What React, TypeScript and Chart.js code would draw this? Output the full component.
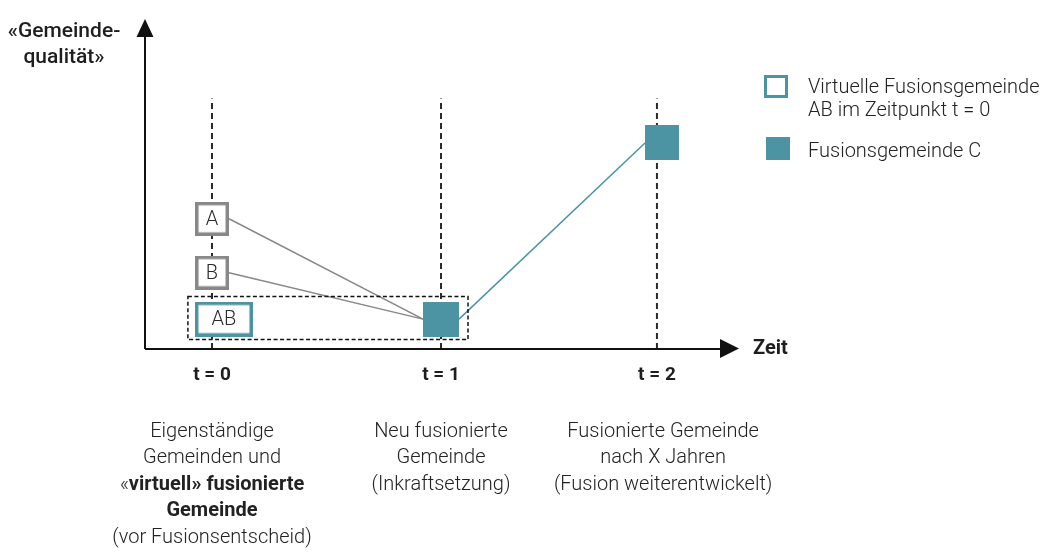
import React, { useEffect, useRef } from "react";
import { Chart, registerables } from "chart.js";

Chart.register(...registerables);

// ---------- data ----------
const timeLabels = ["t = 0", "t = 1", "t = 2"];
const timePositions = [0, 1, 1.943];
const guideTop = 9.62;

const boxNames = ["A", "B", "AB", "C1", "C2"];
const boxLabels = ["A", "B", "AB", "", ""];
const boxX = [0, 0, 0.052, 1, 1.965];
const boxY = [5.0, 2.93, 1.147, 1.147, 7.91];

const connectorFrom = ["A", "B", "C1"];
const connectorTo = ["C1", "C1", "C2"];

const groupMembers = ["AB", "C1"];

const descriptionT0 = [
  "Eigenständige",
  "Gemeinden und",
  "«*virtuell» fusionierte*",
  "*Gemeinde*",
  "(vor Fusionsentscheid)",
];
const descriptionT1 = ["Neu fusionierte", "Gemeinde", "(Inkraftsetzung)"];
const descriptionT2 = [
  "Fusionierte Gemeinde",
  "nach X Jahren",
  "(Fusion weiterentwickelt)",
];
const descriptions = [descriptionT0, descriptionT1, descriptionT2];
const descriptionX = [0, 1, 1.97];

const yAxisTitle = ["«Gemeinde-", "qualität»"];
const xAxisTitle = "Zeit";

const legendVirtual = ["Virtuelle Fusionsgemeinde", "AB im Zeitpunkt t = 0"];
const legendFused = ["Fusionsgemeinde C"];

// ---------- styles ----------
const TEAL = "#4c93a4";
const GREY = "#888888";
const INK = "#1e1e1e";
const FONT = "Roboto, 'Noto Sans', sans-serif";

type BoxStyle = { w: number; h: number; fill: string; stroke?: string; lw?: number };
const boxStyles: Record<string, BoxStyle> = {
  A: { w: 34, h: 34, fill: "#ffffff", stroke: GREY, lw: 3.5 },
  B: { w: 34, h: 34, fill: "#ffffff", stroke: GREY, lw: 3.5 },
  AB: { w: 58, h: 35, fill: "#ffffff", stroke: TEAL, lw: 3.5 },
  C1: { w: 36, h: 35, fill: TEAL },
  C2: { w: 34, h: 35, fill: TEAL },
};
const connectorColors: Record<string, string> = { A: GREY, B: GREY, C1: TEAL };

function makeBox(s: BoxStyle): HTMLCanvasElement {
  const c = document.createElement("canvas");
  c.width = s.w;
  c.height = s.h;
  const g = c.getContext("2d")!;
  g.fillStyle = s.fill;
  g.fillRect(0, 0, s.w, s.h);
  if (s.stroke && s.lw) {
    g.strokeStyle = s.stroke;
    g.lineWidth = s.lw;
    g.strokeRect(s.lw / 2, s.lw / 2, s.w - s.lw, s.h - s.lw);
  }
  return c;
}

function drawRich(
  ctx: CanvasRenderingContext2D,
  line: string,
  cx: number,
  baseline: number,
  lightFont: string,
  boldFont: string
) {
  const parts = line.split("*");
  const segs = parts
    .map((t, i) => ({ t, bold: i % 2 === 1 }))
    .filter((s) => s.t.length > 0);
  let total = 0;
  const widths = segs.map((s) => {
    ctx.font = s.bold ? boldFont : lightFont;
    const w = ctx.measureText(s.t).width;
    total += w;
    return w;
  });
  let x = cx - total / 2;
  ctx.textAlign = "left";
  ctx.textBaseline = "alphabetic";
  segs.forEach((s, i) => {
    ctx.font = s.bold ? boldFont : lightFont;
    ctx.fillText(s.t, x, baseline);
    x += widths[i];
  });
}

const BOX_DATASET = 0;

const diagramPlugin = {
  id: "diagram",
  beforeDatasetsDraw(chart: any) {
    const ctx: CanvasRenderingContext2D = chart.ctx;
    const meta = chart.getDatasetMeta(BOX_DATASET);
    const pos = (name: string) => {
      const i = boxNames.indexOf(name);
      const el = meta.data[i];
      return { x: el.x, y: el.y, s: boxStyles[name] };
    };
    ctx.save();
    // connectors
    connectorFrom.forEach((from, i) => {
      const a = pos(from);
      const b = pos(connectorTo[i]);
      ctx.beginPath();
      ctx.strokeStyle = connectorColors[from];
      ctx.lineWidth = 1.5;
      ctx.moveTo(a.x + a.s.w / 2, a.y);
      ctx.lineTo(b.x - b.s.w / 2, b.y);
      ctx.stroke();
    });
    // dashed group frame
    let l = Infinity, r = -Infinity, t = Infinity, btm = -Infinity;
    groupMembers.forEach((n) => {
      const p = pos(n);
      l = Math.min(l, p.x - p.s.w / 2);
      r = Math.max(r, p.x + p.s.w / 2);
      t = Math.min(t, p.y - p.s.h / 2);
      btm = Math.max(btm, p.y + p.s.h / 2);
    });
    ctx.beginPath();
    ctx.setLineDash([4, 2.5]);
    ctx.strokeStyle = "#111";
    ctx.lineWidth = 1.5;
    ctx.strokeRect(l - 7, t - 5, r - l + 16, btm - t + 8);
    ctx.setLineDash([]);
    ctx.restore();
  },
  afterDatasetsDraw(chart: any) {
    const ctx: CanvasRenderingContext2D = chart.ctx;
    const area = chart.chartArea;
    const xs = chart.scales.x;
    const meta = chart.getDatasetMeta(BOX_DATASET);
    ctx.save();

    // axes
    ctx.strokeStyle = "#111";
    ctx.fillStyle = "#111";
    ctx.lineWidth = 2;
    ctx.beginPath();
    ctx.moveTo(area.left, area.bottom);
    ctx.lineTo(area.left, area.top + 18);
    ctx.moveTo(area.left, area.bottom);
    ctx.lineTo(area.right - 19, area.bottom);
    ctx.stroke();
    ctx.beginPath();
    ctx.moveTo(area.left, area.top);
    ctx.lineTo(area.left - 8.5, area.top + 18);
    ctx.lineTo(area.left + 8.5, area.top + 18);
    ctx.closePath();
    ctx.fill();
    ctx.beginPath();
    ctx.moveTo(area.right, area.bottom - 0.5);
    ctx.lineTo(area.right - 19, area.bottom - 10);
    ctx.lineTo(area.right - 19, area.bottom + 9);
    ctx.closePath();
    ctx.fill();

    // box labels
    ctx.fillStyle = "#2a2a2a";
    ctx.font = `300 20px ${FONT}`;
    ctx.textAlign = "center";
    ctx.textBaseline = "middle";
    boxLabels.forEach((lab, i) => {
      if (!lab) return;
      const el = meta.data[i];
      ctx.fillText(lab, el.x, el.y + 1);
    });

    // axis titles
    ctx.fillStyle = INK;
    ctx.textAlign = "center";
    ctx.textBaseline = "alphabetic";
    ctx.font = `500 21px ${FONT}`;
    yAxisTitle.forEach((line, i) => ctx.fillText(line, 64, 37 + i * 26));
    ctx.textAlign = "left";
    ctx.font = `bold 20px ${FONT}`;
    ctx.fillText(xAxisTitle, area.right + 14, area.bottom + 5);

    // time labels
    ctx.textAlign = "center";
    ctx.font = `bold 19px ${FONT}`;
    timeLabels.forEach((lab, i) => {
      ctx.fillText(lab, xs.getPixelForValue(timePositions[i]), area.bottom + 31);
    });

    // descriptions
    ctx.fillStyle = "#222";
    descriptions.forEach((lines, i) => {
      const cx = xs.getPixelForValue(descriptionX[i]);
      lines.forEach((line, j) => {
        drawRich(ctx, line, cx, 437 + j * 26.4, `300 20px ${FONT}`, `bold 20px ${FONT}`);
      });
    });

    // legend
    const lx = 764;
    ctx.strokeStyle = TEAL;
    ctx.lineWidth = 3;
    ctx.strokeRect(lx + 1.5, 76.5, 21, 20);
    ctx.fillStyle = TEAL;
    ctx.fillRect(lx + 2, 137, 24, 23);
    ctx.fillStyle = "#222";
    ctx.font = `300 20px ${FONT}`;
    ctx.textAlign = "left";
    legendVirtual.forEach((line, i) => ctx.fillText(line, 808, 93 + i * 23));
    legendFused.forEach((line, i) => ctx.fillText(line, 808, 157 + i * 23));

    ctx.restore();
  },
};

export default function App() {
  const ref = useRef<HTMLCanvasElement | null>(null);
  useEffect(() => {
    if (!ref.current) return;
    const images = boxNames.map((n) => makeBox(boxStyles[n]));
    const guideSets = timePositions.map((t) => ({
      type: "scatter" as const,
      data: [
        { x: t, y: 0 },
        { x: t, y: guideTop },
      ],
      showLine: true,
      borderColor: "#2a2a2a",
      borderWidth: 2,
      borderDash: [6, 4],
      pointRadius: 0,
      order: 3,
    }));
    const chart = new Chart(ref.current, {
      type: "scatter",
      data: {
        datasets: [
          {
            data: boxNames.map((_, i) => ({ x: boxX[i], y: boxY[i] })),
            pointStyle: images as any,
            pointRadius: 18,
            order: 0,
          } as any,
          ...guideSets,
        ],
      },
      options: {
        responsive: false,
        animation: false,
        devicePixelRatio: 1,
        events: [],
        layout: { padding: { left: 145, right: 314, top: 12, bottom: 205 } },
        plugins: { legend: { display: false }, tooltip: { enabled: false } },
        scales: {
          x: { type: "linear", display: false, min: -0.29258, max: 2.30131 },
          y: { type: "linear", display: false, min: 0, max: 12.669 },
        },
      },
      plugins: [diagramPlugin],
    });
    return () => chart.destroy();
  }, []);
  return (
    <div style={{ position: "absolute", left: 0, top: 0, width: 1053, height: 554, background: "#fff" }}>
      <canvas ref={ref} width={1053} height={554} style={{ display: "block" }} />
    </div>
  );
}
